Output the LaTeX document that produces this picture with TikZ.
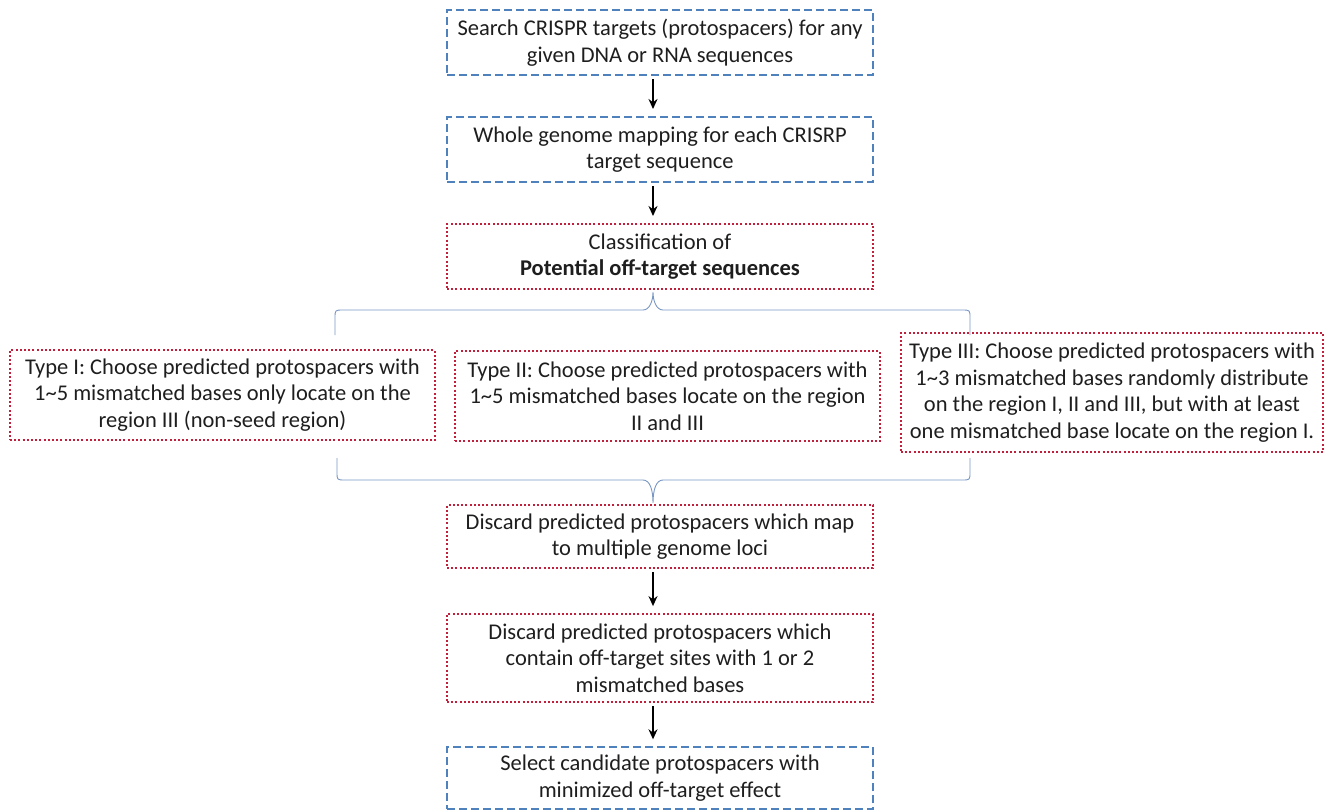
\documentclass[tikz,border=0pt]{standalone}
\usepackage{fontspec}
\setmainfont{Carlito}
\usetikzlibrary{positioning,arrows.meta}
\definecolor{boxblue}{RGB}{79,129,189}
\definecolor{boxred}{RGB}{192,32,60}
\definecolor{bracecol}{RGB}{120,150,195}
\definecolor{txt}{RGB}{30,30,30}

\begin{document}
\begin{tikzpicture}
  [x=1pt, y=-1pt,
   every node/.style={align=center, inner sep=0pt, text=txt, font=\fontsize{22.5}{26.5}\selectfont},
   bluebox/.style={draw=boxblue, line width=2pt, dash pattern=on 8pt off 4pt, minimum width=426pt},
   redbox/.style={draw=boxred, line width=2.2pt, dash pattern=on 2pt off 2.2pt, minimum width=426pt},
   arr/.style={-{Stealth[length=10pt,width=9pt]}, line width=2pt, shorten <=3pt, shorten >=7pt},
   brace/.style={draw=bracecol, line width=0.9pt}]
  \useasboundingbox (0,0) rectangle (1329,809);

  \node [bluebox, minimum height=65pt] (search) at (660,42.5)
    {Search CRISPR targets (protospacers) for any\\given DNA or RNA sequences};
  \node [bluebox, minimum height=65pt, below=40pt of search] (mapping)
    {Whole genome mapping for each CRISRP\\target sequence};
  \node [redbox, minimum height=65pt, below=40pt of mapping] (classify)
    {Classification of\\\textbf{Potential off-target sequences}};

  \node [redbox, minimum width=425pt, minimum height=90pt] (typeI) at (222.5,395)
    {Type I: Choose predicted protospacers with\\1\textasciitilde5 mismatched bases only locate on the\\region III (non-seed region)};
  \node [redbox, minimum width=425pt, minimum height=90pt] (typeII) at (667.5,396)
    {Type II: Choose predicted protospacers with\\1\textasciitilde5 mismatched bases locate on the region\\II and III};
  \node [redbox, minimum width=422pt, minimum height=119pt] (typeIII) at (1112,392.5)
    {Type III: Choose predicted protospacers with\\1\textasciitilde3 mismatched bases randomly distribute\\on the region I, II and III, but with at least\\one mismatched base locate on the region I.};

  \node [redbox, minimum height=63pt] (multiloci) at (660,536.5)
    {Discard predicted protospacers which map\\to multiple genome loci};
  \node [redbox, minimum height=88pt, below=44pt of multiloci] (fewmis)
    {Discard predicted protospacers which\\contain off-target sites with 1 or 2\\mismatched bases};
  \node [bluebox, minimum height=62pt, below=43pt of fewmis] (select)
    {Select candidate protospacers with\\minimized off-target effect};

  \draw [arr] ([xshift=-7pt]search.south) -- ([xshift=-7pt]mapping.north);
  \draw [arr] ([xshift=-7pt]mapping.south) -- ([xshift=-7pt]classify.north);
  \draw [arr] ([xshift=-7pt]multiloci.south) -- ([xshift=-7pt]fewmis.north);
  \draw [arr] ([xshift=-7pt]fewmis.south) -- ([xshift=-7pt]select.north);

  \coordinate (toptip) at ([xshift=-7pt,yshift=-2pt]classify.south);
  \coordinate (topL) at (335,335);
  \coordinate (topR) at (970,335);
  \coordinate (lowtip) at ([xshift=-7pt,yshift=1pt]multiloci.north);
  \coordinate (lowL) at (337,458);
  \coordinate (lowR) at (970,458);

  \draw [brace] (topL) -- (335,318) .. controls (335,310) .. (343,310) -- (643,310)
    .. controls (650,310) and (653,300) .. (toptip)
    .. controls (653,300) and (656,310) .. (663,310) -- (962,310)
    .. controls (970,310) .. (970,318) -- (topR);
  \draw [brace] (lowL) -- (337,472) .. controls (337,480) .. (345,480) -- (643,480)
    .. controls (650,480) and (653,490) .. (lowtip)
    .. controls (653,490) and (656,480) .. (663,480) -- (962,480)
    .. controls (970,480) .. (970,472) -- (lowR);
\end{tikzpicture}
\end{document}
